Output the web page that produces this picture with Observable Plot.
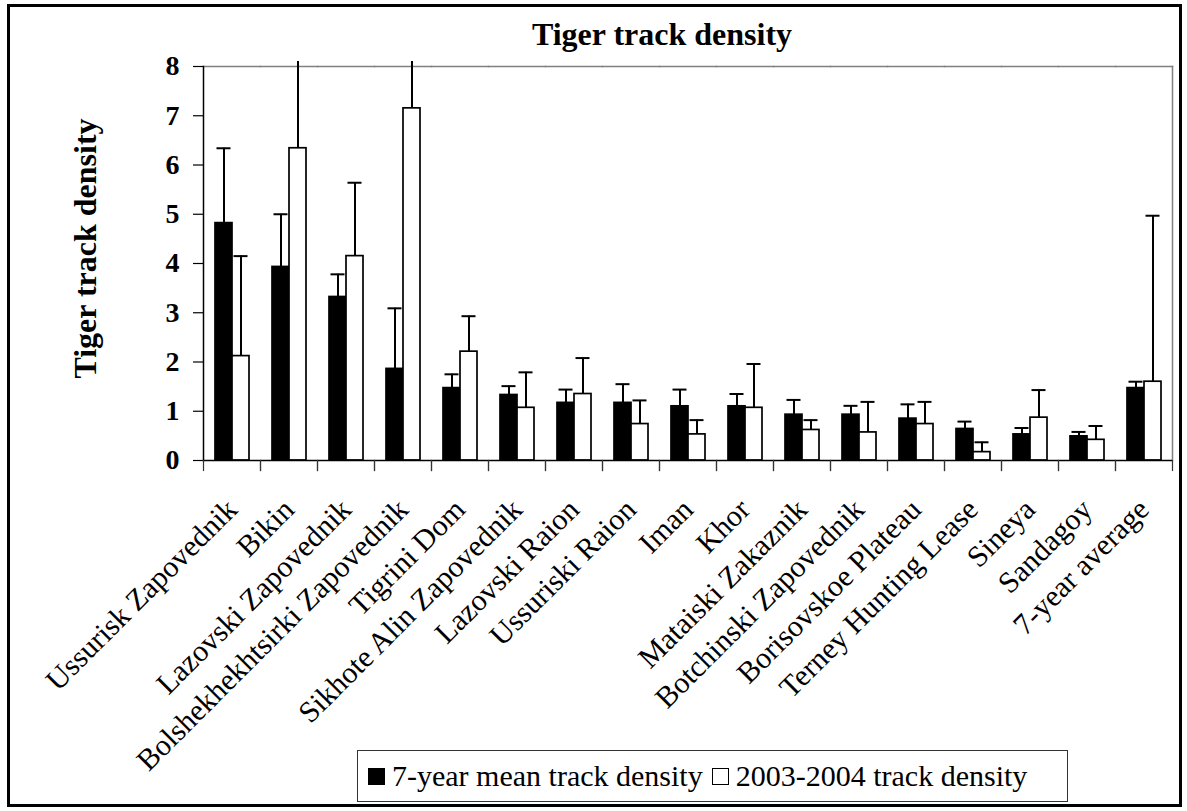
<!DOCTYPE html>
<html>
<head>
<meta charset="utf-8">
<script src="https://cdn.jsdelivr.net/npm/d3@7"></script>
<script src="https://cdn.jsdelivr.net/npm/@observablehq/plot@0.6"></script>
<style>
  html, body { margin: 0; padding: 0; background: #fff; }
  #wrap { position: relative; width: 1187px; height: 811px; font-family: "Liberation Serif", "Times New Roman", serif; color: #000; }
  #border { position: absolute; left: 7px; top: 4px; width: 1175px; height: 803px; border: 3px solid #000; box-sizing: border-box; }
  #title { position: absolute; top: 18px; left: 662px; transform: translateX(-50%); font-size: 32px; line-height: 32px; font-weight: bold; white-space: nowrap; }
  #chart { position: absolute; left: 0; top: 0; }
  #legend { position: absolute; left: 357px; top: 750px; width: 711px; height: 52px; border: 1px solid #333; box-sizing: border-box; display: flex; align-items: center; padding-left: 10px; font-size: 30px; white-space: nowrap; background: #fff; }
  .sw { display: inline-block; width: 17px; height: 17px; box-sizing: border-box; border: 1.5px solid #000; margin-right: 7px; }
</style>
</head>
<body>
<div id="wrap">
  <div id="border"></div>
  <div id="chart"></div>
  <div id="title"></div>
  <div id="legend"></div>
</div>
<script>
const title = "Tiger track density";
const yLabel = "Tiger track density";
const seriesNames = ["7-year mean track density", "2003-2004 track density"];
const seriesColors = ["#000000", "#ffffff"];
const categories = [
  "Ussurisk Zapovednik", "Bikin", "Lazovski Zapovednik", "Bolshekhekhtsirki Zapovednik",
  "Tigrini Dom", "Sikhote Alin Zapovednik", "Lazovski Raion", "Ussuriski Raion",
  "Iman", "Khor", "Mataiski Zakaznik", "Botchinski Zapovednik",
  "Borisovskoe Plateau", "Terney Hunting Lease", "Sineya", "Sandagoy", "7-year average"
];
// 7-year mean track density and the top of its error bar
const mean7 =   [4.82, 3.93, 3.32, 1.86, 1.47, 1.33, 1.17, 1.17, 1.10, 1.10, 0.93, 0.93, 0.85, 0.64, 0.53, 0.49, 1.47];
const mean7Hi = [6.34, 5.00, 3.78, 3.09, 1.75, 1.51, 1.44, 1.55, 1.44, 1.35, 1.23, 1.11, 1.14, 0.79, 0.66, 0.58, 1.60];
// 2003-2004 track density and the top of its error bar (8.1 = clipped above the axis)
const recent =   [2.12, 6.34, 4.15, 7.15, 2.21, 1.07, 1.35, 0.74, 0.53, 1.07, 0.62, 0.57, 0.74, 0.17, 0.87, 0.42, 1.60];
const recentHi = [4.15, 8.10, 5.64, 8.10, 2.93, 1.79, 2.08, 1.22, 0.82, 1.96, 0.82, 1.19, 1.19, 0.37, 1.43, 0.70, 4.97];
const yTicks = [0, 1, 2, 3, 4, 5, 6, 7, 8];
const yMax = 8;

const rows = categories.flatMap((c, i) => [
  {cat: c, series: seriesNames[0], value: mean7[i], hi: mean7Hi[i]},
  {cat: c, series: seriesNames[1], value: recent[i], hi: recentHi[i]}
]);

const W = 1187, H = 750, mTop = 66, mBottom = 290, mLeft = 199, mRight = 11;
const innerH = H - mTop - mBottom;
const font = "Liberation Serif";

const chart = Plot.plot({
  width: W, height: H,
  marginTop: mTop, marginBottom: mBottom, marginLeft: mLeft, marginRight: mRight,
  style: {fontFamily: font, background: "transparent", overflow: "visible", color: "#000"},
  fx: {domain: categories, padding: 0, axis: null, label: null},
  x: {domain: seriesNames, paddingInner: 0, paddingOuter: 0.6, axis: null, label: null},
  y: {domain: [0, yMax], axis: null, label: null},
  color: {domain: seriesNames, range: seriesColors},
  marks: [
    Plot.frame({anchor: "top", stroke: "#808080", strokeWidth: 1.5}),
    Plot.frame({anchor: "right", facetAnchor: "right", stroke: "#808080", strokeWidth: 1.5}),
    Plot.barY(rows, {fx: "cat", x: "series", y: "value", fill: "series", stroke: "#000", strokeWidth: 1.7}),
    Plot.ruleX(rows, {fx: "cat", x: "series", y1: "value", y2: "hi", stroke: "#000", strokeWidth: 2}),
    Plot.tickY(rows.filter(d => d.hi <= yMax), {fx: "cat", x: "series", y: "hi", stroke: "#000", strokeWidth: 2, insetLeft: 1.5, insetRight: 1.5}),
    Plot.ruleY([0], {stroke: "#000", strokeWidth: 1.5}),
    Plot.frame({anchor: "left", facetAnchor: "left", stroke: "#000", strokeWidth: 1.5}),
    Plot.frame({anchor: "left", insetTop: innerH, insetBottom: -10, stroke: "#333", strokeWidth: 1.2}),
    Plot.frame({anchor: "right", insetTop: innerH, insetBottom: -10, stroke: "#333", strokeWidth: 1.2}),
    Plot.axisY(yTicks, {anchor: "left", tickSize: 10, tickPadding: 14, fontSize: 28, fontWeight: "bold", stroke: "#000", strokeWidth: 1.2, label: null, tickFormat: d => String(d)}),
    Plot.axisFx({anchor: "bottom", tickRotate: -45, tickSize: 0, tickPadding: 44, fontSize: 30, label: null}),
    Plot.text([yLabel], {text: d => d, frameAnchor: "left", facetAnchor: "left", textAnchor: "middle", lineAnchor: "middle", rotate: -90, dx: -118, dy: -15, fontSize: 32, fontWeight: "bold"})
  ]
});
document.getElementById("chart").appendChild(chart);
document.getElementById("title").textContent = title;

const legend = document.getElementById("legend");
seriesNames.forEach((s, i) => {
  const sw = document.createElement("span");
  sw.className = "sw";
  sw.style.background = seriesColors[i];
  sw.style.marginLeft = i ? "9px" : "0";
  legend.appendChild(sw);
  legend.appendChild(document.createTextNode(s));
});
</script>
</body>
</html>
